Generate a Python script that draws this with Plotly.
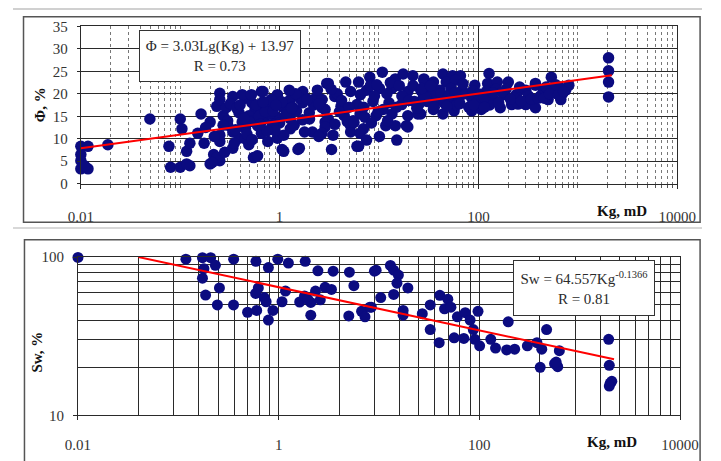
import plotly.graph_objects as go

W, H = 721, 461

# ---------------- data ----------------
# Top chart: porosity vs gas permeability
phi_kg = [
    0.01, 0.0118, 0.01, 0.01, 0.01, 0.0118, 0.0109, 0.0187, 0.0495, 0.077, 0.1, 0.104,
    0.08, 0.1, 0.125, 0.116, 0.125, 0.162, 0.15, 0.2, 0.2, 0.217, 0.233, 0.25, 0.25,
    0.25, 0.338, 0.454, 0.656, 0.95, 1.28, 1.71, 2.3, 2.98, 0.271, 0.39, 0.566, 0.76,
    1.1, 1.48, 1.99, 2.67, 0.25, 0.338, 0.454, 0.656, 0.88, 1.28, 0.338, 0.49, 0.76,
    1.1, 1.53, 0.546, 0.25, 2.14, 2.87, 2.0, 0.49, 0.7, 0.95, 0.29, 0.526, 1.71, 0.82,
    0.42, 1.28, 0.6, 0.39, 0.95,
    3.09, 4.63, 6.23, 8.07, 10.8, 14.6, 17.5, 21.9, 28.3, 2.67, 3.59, 5.18, 7.5, 10.1,
    13.5, 19.5, 26.3, 2.87, 4.15, 6.0, 8.7, 12.6, 16.9, 22.7, 31.6, 3.09, 4.47, 6.45,
    9.35, 13.5, 19.5, 26.3, 2.87, 5.18, 6.97, 11.7, 14.6, 18.9, 2.67, 3.45, 5.18, 6.45,
    10.1, 15.1, 7.5, 3.33, 6.0,
    28.3, 44, 55, 66, 128, 35.3, 47.5, 59, 32.8, 41, 53, 68.7, 92, 124, 155, 200, 30.5,
    39.5, 51, 63.7, 85.7, 111, 143, 179, 241, 300, 375, 35.3, 44, 57, 85.7, 107, 166,
    216, 300,
    375, 542, 348, 375, 451, 503, 606, 676, 755, 813, 652, 2040, 2040, 2040, 2040,
    0.42, 0.68, 0.99, 1.06, 1.58, 0.6, 0.233, 0.21, 0.116, 0.174, 2.48, 1.78, 1.1,
    19.5, 24.5, 6.23,
    0.18, 0.22, 0.3, 0.35, 0.28, 0.45, 0.55, 0.65, 0.8, 1.0, 1.2, 1.4, 1.6, 2.2, 3.8,
    4.0, 5.5, 7.0, 9.0, 11, 12, 15, 17, 20, 25, 28, 38, 45, 60, 75, 80, 95, 120, 130,
    150, 190, 230, 260, 320, 420, 480, 560, 600, 700, 250, 160,
    0.32, 0.37, 0.43, 0.5, 0.58, 0.62, 0.72, 0.85, 0.9, 1.15, 1.35, 1.9, 2.5, 0.36, 0.47,
    0.53, 0.75, 1.05, 1.45, 0.3, 0.4, 0.52, 0.68, 0.86, 1.25, 1.7, 2.4, 3.3, 4.2, 5.0,
    6.5, 8.2, 9.8, 4.8, 7.2, 9.5, 13, 16, 22, 27, 33, 42, 50, 58, 70, 88, 100, 115, 140,
    175, 210, 270, 340, 400, 460, 520, 640, 720, 24, 36, 48, 65, 90, 115, 3.6, 5.6, 8.4,
    12.2, 0.27, 0.44, 0.64, 0.92, 1.32,
]
phi_val = [
    8.3, 8.3, 6.5, 5.1, 3.3, 3.3, 4.0, 8.65, 14.4, 8.3, 14.4, 12.2,
    3.65, 3.65, 4.0, 7.2, 9.0, 15.5, 11.2, 13.7, 4.4, 6.5, 17.2, 20.1, 9.4,
    18.7, 19.4, 19.0, 20.5, 19.8, 18.7, 20.5, 19.0, 22.3, 15.1, 15.8, 16.5, 17.2,
    16.9, 16.2, 15.8, 16.9, 10.8, 11.5, 12.2, 11.2, 12.9, 12.2, 7.9, 8.65, 9.4,
    7.2, 7.6, 5.8, 5.1, 11.5, 13.7, 14.4, 15.1, 14.4, 14.7, 16.9, 18.0, 18.0, 18.7,
    13.7, 14.4, 12.9, 10.1, 10.1,
    22.3, 22.6, 22.6, 23.7, 24.8, 23.3, 24.4, 24.0, 23.0, 18.7, 19.4, 20.5, 20.8, 21.2,
    21.2, 20.5, 20.8, 16.5, 17.2, 17.6, 18.3, 18.0, 17.6, 18.3, 18.7, 14.4, 15.1, 15.5,
    15.1, 15.5, 15.1, 15.5, 12.6, 12.9, 12.2, 12.9, 12.9, 12.9, 11.2, 10.8, 11.5, 11.2,
    10.5, 9.7, 9.7, 7.6, 8.3,
    23.3, 24.4, 24.0, 24.0, 24.5, 22.6, 22.6, 23.0, 20.5, 20.8, 21.2, 20.8, 21.9, 22.3,
    22.6, 22.6, 18.3, 18.7, 19.0, 18.7, 19.0, 18.3, 18.7, 19.8, 19.8, 20.8, 21.9, 16.5,
    15.5, 16.2, 16.2, 16.5, 16.9, 17.6, 17.6,
    22.3, 23.7, 18.7, 16.9, 20.5, 18.7, 20.1, 18.7, 20.8, 21.9, 21.5, 28.0, 25.1, 22.6,
    19.3,
    19.8, 20.5, 17.6, 7.6, 7.9, 6.2, 5.8, 4.7, 4.4, 9.0, 10.5, 11.5, 10.8,
    12.6, 15.5, 8.3,
    12.5, 10.5, 13.0, 9.0, 7.0, 10.0, 14.0, 16.0, 15.5, 13.5, 16.0, 13.0, 19.0, 17.5,
    20.0, 16.0, 14.0, 17.0, 19.5, 16.5, 20.0, 17.0, 19.5, 18.5, 17.5, 19.5, 20.0, 18.0,
    17.5, 20.0, 17.0, 18.0, 20.5, 17.5, 21.0, 21.0, 19.0, 21.5, 19.5, 19.5, 21.5, 20.5,
    22.0, 20.0, 17.7, 18.0,
    17.8, 16.8, 14.8, 13.8, 17.5, 15.0, 16.0, 13.2, 11.8, 15.2, 17.0, 18.8, 17.8, 12.0,
    11.0, 9.8, 11.8, 18.2, 20.0, 14.0, 17.5, 19.8, 18.2, 16.2, 20.8, 14.2, 20.8, 21.0,
    18.5, 17.0, 19.8, 21.8, 16.0, 13.8, 14.8, 22.0, 22.5, 21.8, 21.8, 21.2, 21.8, 20.0,
    19.5, 20.2, 22.2, 20.6, 20.0, 19.2, 20.2, 20.4, 18.8, 18.4, 18.8, 19.0, 19.0, 20.0,
    19.8, 20.5, 16.8, 17.0, 17.2, 17.8, 17.5, 17.0, 13.2, 13.6, 13.5, 14.0, 13.0, 14.5,
    13.2, 17.5, 16.8,
]
phi_trend_kg = [0.01, 2200]
phi_trend_val = [7.9, 24.1]

# Bottom chart: water saturation vs gas permeability
sw_kg = [
    0.01, 0.119, 0.174, 0.21, 0.234, 0.18, 0.174, 0.257, 0.187, 0.245, 0.355, 0.295,
    0.356, 0.594, 0.79, 0.98, 1.25, 1.84, 2.46, 3.49, 5.07, 9.0, 5.62, 0.627, 0.59,
    0.72, 0.75, 0.877, 0.79, 0.49, 0.604, 1.17, 1.08, 1.62, 1.81, 2.09, 2.33, 2.6, 2.9,
    3.36, 2.09, 5.0, 6.7, 7.25, 8.4, 1.95,
    9.36, 13.0, 14.0, 15.6, 15.1, 19.4, 14.0, 10.4, 8.1, 17.4, 17.4, 27, 32.4, 40.4,
    48.5, 45, 52.1, 32.4, 39.8, 60.4, 72.4, 80.9, 97, 87, 56.1, 70, 90.2, 100.7, 130,
    145, 187, 225, 194, 301, 375, 419, 468, 404, 562, 604, 583, 627, 1945, 1973, 2018,
    2090, 1973,
]
sw_val = [
    99.5, 97, 99, 99, 88.6, 84.5, 73.5, 63.8, 57.5, 49.8, 49.8, 101,
    97, 94, 85.8, 97, 91.6, 94, 81.8, 81.4, 80.2, 81.4, 65.9, 63.8, 58.9,
    55.5, 52.2, 46.0, 40.0, 44.8, 46, 61, 52.2, 52, 56.8, 51.7, 61, 53.7, 64.4,
    62.4, 42.9, 42.5, 45.4, 41.9, 48.2, 54.2,
    82.6, 88.5, 82.6, 76.9, 68.4, 63.8, 58.1, 55.5, 48.2, 46, 42.9, 43.9, 49.8, 57.3,
    54.2, 47.1, 48.2, 34.8, 28.8, 41.9, 44.5, 40, 45.4, 34.8, 30.9, 30.6, 30.2, 27.5,
    30.2, 26.6, 25.9, 26.2, 39, 27.5, 28.8, 26.2, 34.8, 20.1, 21.2, 20.3, 21.7, 25.6,
    30.2, 20.7, 16.0, 16.4, 15.3,
]
sw_trend_kg = [0.04, 2200]
sw_trend_val = [100, 22.6]

x_tickvals = [0.01, 1, 100, 10000]
x_ticktext = ["0.01", "1", "100", "10000"]
top_minor = [m * 10 ** e for e in range(-2, 4) for m in range(1, 10) if not (m == 1 and e % 2 == 0)]
bot_minor = [k * k * 100 ** e for e in (-1, 0, 1) for k in range(2, 10)]
sw_tickvals = [10, 100]
sw_minor = [20, 30, 40, 50, 60, 70, 80, 90]

# ---------------- figure ----------------
def px_x(p):
    return p / W

def px_y(p):
    return 1 - p / H

NAVY = "#0b0b80"
GRID = "#2a2a2a"
SERIF = "Liberation Serif"
tickfont = dict(family=SERIF, size=15, color="#333")

fig = go.Figure()
fig.add_trace(go.Scatter(x=phi_kg, y=phi_val, mode="markers", xaxis="x", yaxis="y",
                         marker=dict(size=11.5, color=NAVY), cliponaxis=False, showlegend=False))
fig.add_trace(go.Scatter(x=phi_trend_kg, y=phi_trend_val, mode="lines", xaxis="x", yaxis="y",
                         line=dict(color="#ff0000", width=2), showlegend=False))
fig.add_trace(go.Scatter(x=sw_kg, y=sw_val, mode="markers", xaxis="x2", yaxis="y2",
                         marker=dict(size=11, color=NAVY), cliponaxis=False, showlegend=False))
fig.add_trace(go.Scatter(x=sw_trend_kg, y=sw_trend_val, mode="lines", xaxis="x2", yaxis="y2",
                         line=dict(color="#ff0000", width=2), showlegend=False))

common_x = dict(type="log", range=[-2, 4], tickvals=x_tickvals, ticktext=x_ticktext,
                showgrid=True, gridcolor=GRID, gridwidth=1.2, showline=True, linecolor=GRID,
                linewidth=1.2, mirror=True, ticks="outside", ticklen=4, tickcolor=GRID,
                tickfont=tickfont, zeroline=False)

fig.update_layout(
    width=W, height=H, margin=dict(l=0, r=0, t=0, b=0),
    paper_bgcolor="white", plot_bgcolor="white",
    xaxis=dict(**common_x, domain=[px_x(71), px_x(695)], anchor="y", ticklabelstandoff=15,
               minor=dict(tickvals=top_minor, showgrid=True, gridcolor="#777",
                          griddash="dot", gridwidth=1, ticks="outside", ticklen=3,
                          tickcolor="#555")),
    yaxis=dict(range=[0, 35], tick0=0, dtick=5, domain=[px_y(182), px_y(19)], anchor="x",
               showgrid=True, gridcolor=GRID, gridwidth=1.2, showline=True, linecolor=GRID,
               linewidth=1.2, mirror=True, ticks="outside", ticklen=3, tickcolor=GRID,
               ticklabelstandoff=6, tickfont=tickfont, zeroline=False),
    xaxis2=dict(**common_x, domain=[px_x(68), px_x(698)], anchor="y2", ticklabelstandoff=12,
                minor=dict(tickvals=bot_minor, showgrid=True, gridcolor=GRID, gridwidth=1.2,
                           ticks="")),
    yaxis2=dict(type="log", range=[1, 2], tickvals=sw_tickvals, ticktext=["10", "100"],
                domain=[px_y(422), px_y(258)], anchor="x2",
                showgrid=True, gridcolor=GRID, gridwidth=1.2, showline=True, linecolor=GRID,
                linewidth=1.2, mirror=True, ticks="outside", ticklen=4, tickcolor=GRID,
                ticklabelstandoff=6, tickfont=tickfont, zeroline=False,
                minor=dict(tickvals=sw_minor, showgrid=True, gridcolor=GRID, gridwidth=1.2,
                           ticks="")),
)

frame = dict(color="#555", width=1.5)
fig.update_layout(shapes=[
    dict(type="rect", xref="paper", yref="paper", x0=px_x(11), x1=px_x(719),
         y0=px_y(222), y1=px_y(9), line=frame, fillcolor="rgba(0,0,0,0)", layer="below"),
    dict(type="rect", xref="paper", yref="paper", x0=px_x(12), x1=px_x(719),
         y0=px_y(475), y1=px_y(240), line=frame, fillcolor="rgba(0,0,0,0)", layer="below"),
    dict(type="line", xref="paper", yref="paper", x0=0, x1=1, y0=px_y(228), y1=px_y(228),
         line=dict(color="#d8d8d8", width=2)),
    dict(type="line", xref="paper", yref="paper", x0=0, x1=1, y0=px_y(1), y1=px_y(1),
         line=dict(color="#d0d0d0", width=2)),
])

eqfont = dict(family=SERIF, size=15, color="#2b2b2b")
labfont = dict(family=SERIF, size=15, color="#111")
fig.update_layout(annotations=[
    dict(xref="paper", yref="paper", x=px_x(217), y=px_y(50), xanchor="center",
         yanchor="middle", text="Φ = 3.03Lg(Kg) + 13.97<br>R = 0.73", showarrow=False,
         font=eqfont, bgcolor="white", bordercolor="#333", borderwidth=1, borderpad=1,
         width=158, height=48),
    dict(xref="paper", yref="paper", x=px_x(597), y=px_y(290), xanchor="center",
         yanchor="middle", text="Sw = 64.557Kg<sup>-0.1366</sup><br>R = 0.81", showarrow=False,
         font=eqfont, bgcolor="white", bordercolor="#333", borderwidth=1, borderpad=1,
         width=138, height=52),
    dict(xref="paper", yref="paper", x=px_x(28), y=px_y(100), xanchor="center",
         yanchor="middle", text="<b>Φ, %</b>", textangle=-90, showarrow=False, font=labfont),
    dict(xref="paper", yref="paper", x=px_x(25), y=px_y(356), xanchor="center",
         yanchor="middle", text="<b>Sw, %</b>", textangle=-90, showarrow=False, font=labfont),
    dict(xref="paper", yref="paper", x=px_x(637), y=px_y(210), xanchor="center",
         yanchor="middle", text="<b>Kg, mD</b>", showarrow=False, font=labfont),
    dict(xref="paper", yref="paper", x=px_x(627), y=px_y(450), xanchor="center",
         yanchor="middle", text="<b>Kg, mD</b>", showarrow=False, font=labfont),
])

fig.write_html("out.html")
